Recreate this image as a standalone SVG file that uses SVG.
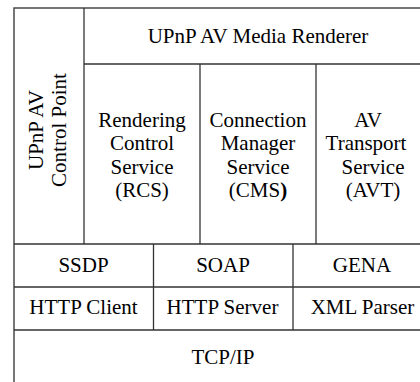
<svg xmlns="http://www.w3.org/2000/svg" width="420" height="382" viewBox="0 0 420 382">
<style>
.b{fill:#fff;stroke:#4a4a4a;stroke-width:1.5}
.l{stroke:#333;stroke-width:1.3;fill:none}
text{font-family:"Liberation Serif","Times New Roman",serif;font-size:21px;fill:#000;text-anchor:middle}
</style>
<rect width="420" height="382" fill="#fff"/>
<g id="outer"><rect class="b" x="14" y="8" width="418" height="380"/></g>
<g id="connectors">
<line class="l" x1="84" y1="8" x2="84" y2="244"/>
<line class="l" x1="84" y1="64" x2="432" y2="64"/>
<line class="l" x1="200" y1="64" x2="200" y2="244"/>
<line class="l" x1="316" y1="64" x2="316" y2="244"/>
<line class="l" x1="14" y1="244" x2="432" y2="244"/>
<line class="l" x1="14" y1="287" x2="432" y2="287"/>
<line class="l" x1="14" y1="330" x2="432" y2="330"/>
<line class="l" x1="153.5" y1="244" x2="153.5" y2="330"/>
<line class="l" x1="293" y1="244" x2="293" y2="330"/>
</g>
<g id="control-point">
<text transform="translate(43,130) rotate(-90)">UPnP AV</text>
<text transform="translate(66,130) rotate(-90)">Control Point</text>
</g>
<g id="media-renderer"><text x="258" y="43">UPnP AV Media Renderer</text></g>
<g id="rcs">
<text x="142" y="127">Rendering</text>
<text x="142" y="150">Control</text>
<text x="142" y="174">Service</text>
<text x="142" y="197">(RCS)</text>
</g>
<g id="cms">
<text x="258" y="127">Connection</text>
<text x="258" y="150">Manager</text>
<text x="258" y="174">Service</text>
<text x="258" y="197">(CMS<tspan font-weight="bold">)</tspan></text>
</g>
<g id="avt">
<text x="368" y="127">AV</text>
<text x="366" y="150">Transport</text>
<text x="373" y="174">Service</text>
<text x="373" y="197">(AVT)</text>
</g>
<g id="ssdp"><text x="83.5" y="272">SSDP</text></g>
<g id="soap"><text x="223" y="272">SOAP</text></g>
<g id="gena"><text x="362" y="272">GENA</text></g>
<g id="http-client"><text x="83.5" y="314">HTTP Client</text></g>
<g id="http-server"><text x="222.5" y="314">HTTP Server</text></g>
<g id="xml-parser"><text x="362.5" y="314">XML Parser</text></g>
<g id="tcpip"><text x="223" y="364">TCP/IP</text></g>
</svg>
